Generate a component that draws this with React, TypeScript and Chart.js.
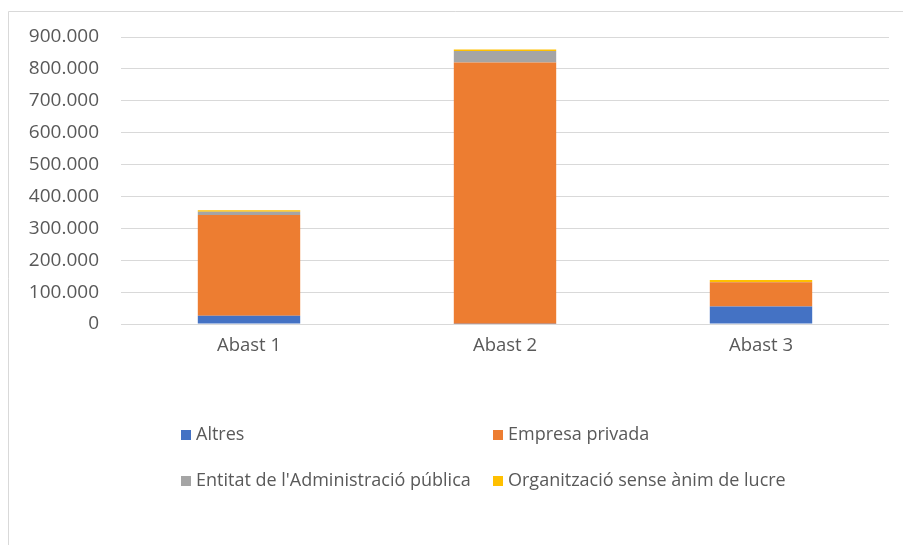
import React, { useEffect, useRef } from "react";
import { Chart, registerables } from "chart.js";

Chart.register(...registerables);

const categories = ["Abast 1", "Abast 2", "Abast 3"];
const seriesLabels = [
  "Altres",
  "Empresa privada",
  "Entitat de l'Administració pública",
  "Organització sense ànim de lucre",
];
const altres = [26000, 1000, 55000];
const empresaPrivada = [316000, 819000, 76000];
const entitatAdministracio = [10000, 36000, 1000];
const organitzacioSenseAnim = [5000, 5000, 6000];
const seriesColors = ["#4472C4", "#ED7D31", "#A5A5A5", "#FFC000"];
const yMax = 900000;
const yStep = 100000;

const FONT = "'Open Sans', 'Noto Sans', sans-serif";
const TEXT_COLOR = "#595959";
const GRID_COLOR = "#D9D9D9";

function formatThousands(v: number): string {
  const s = Math.round(v).toString();
  return s.replace(/\B(?=(\d{3})+(?!\d))/g, ".");
}

const framePlugin = {
  id: "frame",
  beforeDraw(chart: any) {
    const ctx = chart.ctx;
    ctx.save();
    ctx.fillStyle = "#FFFFFF";
    ctx.fillRect(0, 0, chart.width, chart.height);
    ctx.strokeStyle = GRID_COLOR;
    ctx.lineWidth = 1;
    ctx.beginPath();
    ctx.moveTo(8.5, chart.height);
    ctx.lineTo(8.5, 11.5);
    ctx.lineTo(chart.width, 11.5);
    ctx.stroke();
    ctx.restore();
  },
};

const legendPlugin = {
  id: "gridLegend",
  afterDraw(chart: any) {
    const ctx = chart.ctx;
    const cols = [181, 493];
    const rows = [435, 481];
    ctx.save();
    ctx.font = `18px ${FONT}`;
    ctx.textBaseline = "middle";
    ctx.textAlign = "left";
    chart.data.datasets.forEach((ds: any, i: number) => {
      const x = cols[i % 2];
      const y = rows[Math.floor(i / 2)];
      ctx.fillStyle = ds.backgroundColor;
      ctx.fillRect(x, y - 5, 10, 10);
      ctx.fillStyle = TEXT_COLOR;
      ctx.fillText(ds.label, x + 15, y);
    });
    ctx.restore();
  },
};

export default function App() {
  const canvasRef = useRef<HTMLCanvasElement | null>(null);

  useEffect(() => {
    if (!canvasRef.current) return;
    const seriesValues = [altres, empresaPrivada, entitatAdministracio, organitzacioSenseAnim];
    const chart = new Chart(canvasRef.current, {
      type: "bar",
      data: {
        labels: categories,
        datasets: seriesValues.map((vals, i) => ({
          label: seriesLabels[i],
          data: vals,
          backgroundColor: seriesColors[i],
          borderWidth: 0,
          categoryPercentage: 1,
          barPercentage: 0.4,
        })),
      },
      options: {
        animation: false,
        responsive: false,
        maintainAspectRatio: false,
        layout: { padding: { left: 0, right: 14, top: 37, bottom: 161 } },
        plugins: {
          legend: { display: false },
          tooltip: { enabled: false },
          title: { display: false },
        },
        scales: {
          x: {
            stacked: true,
            grid: { display: false, drawTicks: false },
            border: { display: false },
            ticks: {
              color: TEXT_COLOR,
              font: { family: FONT, size: 18.5 },
              padding: 11,
            },
            afterFit(scale: any) {
              scale.height = 60;
            },
          },
          y: {
            stacked: true,
            min: 0,
            max: yMax,
            grid: { color: GRID_COLOR, lineWidth: 1, drawTicks: false },
            border: { display: false },
            ticks: {
              stepSize: yStep,
              color: TEXT_COLOR,
              font: { family: FONT, size: 19 },
              padding: 22,
              callback: (v: any) => formatThousands(Number(v)),
            },
            afterFit(scale: any) {
              scale.width = 121;
            },
          },
        },
      },
      plugins: [framePlugin, legendPlugin],
    });
    return () => chart.destroy();
  }, []);

  return (
    <div style={{ position: "fixed", left: 0, top: 0, width: 903, height: 545 }}>
      <canvas ref={canvasRef} width={903} height={545} style={{ width: 903, height: 545, display: "block" }} />
    </div>
  );
}
